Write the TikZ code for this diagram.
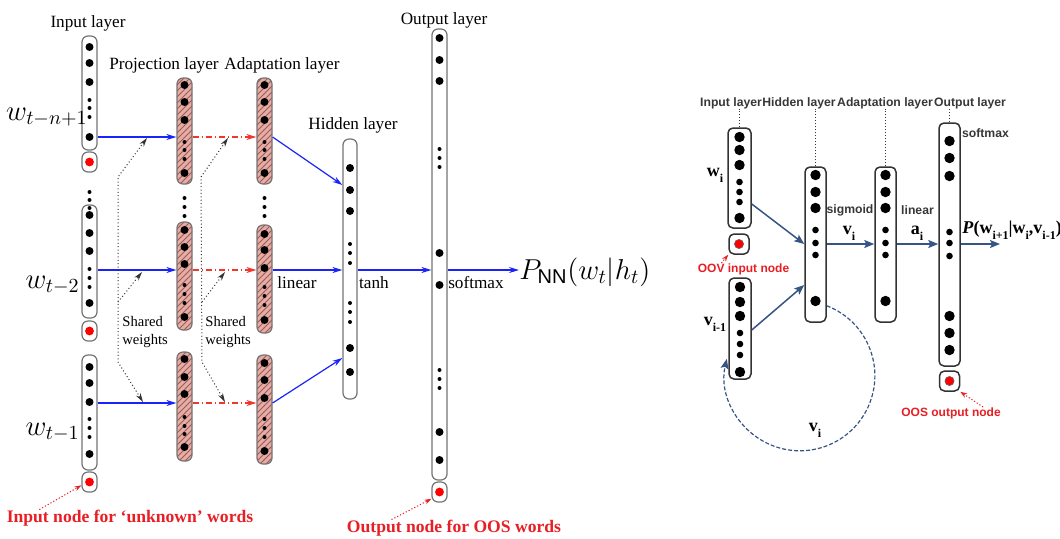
\documentclass[tikz,border=0pt]{standalone}
\usepackage{fontspec}
\setmainfont{Liberation Serif}
\setsansfont{Liberation Sans}
\usetikzlibrary{arrows.meta,patterns}

\definecolor{hatchpink}{RGB}{230,172,166}
\definecolor{hatchline}{RGB}{160,90,88}
\definecolor{linkblue}{RGB}{25,35,250}
\definecolor{linkred}{RGB}{240,55,45}
\definecolor{oovred}{RGB}{232,30,36}
\definecolor{navy}{RGB}{55,85,132}
\definecolor{titlegray}{RGB}{55,55,55}

\newcommand\rsub[1]{\raisebox{-0.75ex}{\fontsize{6}{7}\selectfont #1}}

\begin{document}
\begin{tikzpicture}[x=0.5pt, y=-0.5pt,
column/.style={rectangle, rounded corners=3pt, draw=black!55, line width=0.6pt, minimum width=7.5pt, inner sep=0pt},
hatchcolumn/.style={column, preaction={fill=hatchpink}, pattern=north east lines, pattern color=hatchline},
rcolumn/.style={rectangle, rounded corners=2.5pt, draw=black!80, line width=0.75pt, minimum width=11pt, inner sep=0pt},
layerlabel/.style={font=\fontsize{8.6}{10}\selectfont, inner sep=0pt},
sharedlabel/.style={font=\fontsize{7.3}{8.8}\selectfont, inner sep=0pt, anchor=west},
wordlabel/.style={font=\fontsize{14.4}{17}\selectfont, inner sep=0pt, anchor=base east},
redlabel/.style={font=\fontsize{8.8}{10}\selectfont\bfseries, text=oovred, inner sep=0pt},
rtitle/.style={font=\fontsize{6.1}{7}\selectfont\sffamily\bfseries, text=titlegray, inner sep=0pt},
rredlabel/.style={font=\fontsize{6}{7}\selectfont\sffamily\bfseries, text=oovred, inner sep=0pt},
rvec/.style={font=\fontsize{9}{10}\selectfont\bfseries, inner sep=0pt},
bigdot/.style={radius=2pt},
smalldot/.style={radius=1pt},
rbigdot/.style={radius=2.6pt},
rsmalldot/.style={radius=1.65pt},
reddot/.style={fill=red, radius=2.2pt},
bluearrow/.style={draw=linkblue, line width=0.6pt, -{Stealth[length=5pt,width=3pt]}},
redarrow/.style={draw=linkred, line width=0.6pt, dash pattern=on 3pt off 1.5pt on 0.6pt off 1.5pt, -{Stealth[length=5pt,width=3pt]}},
shared/.style={draw=black!80, line width=0.5pt, dash pattern=on 0.5pt off 1.2pt},
sharedtip/.style={{Stealth[length=4.5pt,width=2.6pt]}-{Stealth[length=4.5pt,width=2.6pt]}},
oovarrow/.style={draw=oovred, line width=0.5pt, dash pattern=on 0.6pt off 1pt, -{Stealth[length=3.5pt,width=2.4pt]}},
navyarrow/.style={draw=navy, line width=0.75pt, -{Stealth[length=5pt,width=4pt,inset=1pt]}},
]
\useasboundingbox (0,0) rectangle (1060,538);

%Nodes (left network)
\node[column, minimum height=57pt]   (in1)   at (89.5,93)    {};
\node[column, minimum height=10pt]   (red1)  at (89.5,162)   {};
\node[column, minimum height=56.5pt] (in2)   at (89.5,261.5) {};
\node[column, minimum height=10pt]   (red2)  at (89.5,331)   {};
\node[column, minimum height=57.5pt] (in3)   at (89.5,412.5) {};
\node[column, minimum height=10pt]   (red3)  at (89.5,482)   {};

\node[hatchcolumn, minimum height=53pt]   (proj1) at (184.5,131)   {};
\node[hatchcolumn, minimum height=54pt]   (proj2) at (184.5,276)   {};
\node[hatchcolumn, minimum height=54.5pt] (proj3) at (184.5,406.5) {};
\node[hatchcolumn, minimum height=53pt]   (ad1)   at (264.5,131)   {};
\node[hatchcolumn, minimum height=54pt]   (ad2)   at (264.5,279)   {};
\node[hatchcolumn, minimum height=54.5pt] (ad3)   at (264.5,409.5) {};

\node[column, minimum width=7pt, minimum height=130pt] (hid)    at (350,269)   {};
\node[column, minimum height=225.5pt]                  (out)    at (439.5,254.5) {};
\node[column, minimum height=10pt]                     (redout) at (439.5,492) {};

\node[layerlabel] (linput) at (88,23)   {Input layer};
\node[layerlabel] (lproj)  at (164,65)  {Projection layer};
\node[layerlabel] (ladapt) at (282,65)  {Adaptation layer};
\node[layerlabel] (lhid)   at (353,125) {Hidden layer};
\node[layerlabel] (lout)   at (444,20)  {Output layer};
\node[layerlabel] (llin)   at (297,283) {linear};
\node[layerlabel] (ltanh)  at (374,283) {tanh};
\node[layerlabel] (lsoft)  at (476,283) {softmax};
\node[sharedlabel] (sw1) at (122,332) {\begin{tabular}{@{}l@{}}Shared\\weights\end{tabular}};
\node[sharedlabel] (sw2) at (205,332) {\begin{tabular}{@{}l@{}}Shared\\weights\end{tabular}};

\node[wordlabel] (w1) at (88,120) {$w_{t-n+1}$};
\node[wordlabel] (w2) at (80,288) {$w_{t-2}$};
\node[wordlabel] (w3) at (80,435) {$w_{t-1}$};
\node[font=\fontsize{14.4}{16}\selectfont, inner sep=0pt, anchor=base west] (pnn) at (519,279) {$P_{\mathsf{NN}}(w_t|h_t)$};

\node[redlabel] (lunk) at (130,518) {Input node for ‘unknown’ words};
\node[redlabel] (loos) at (454,528) {Output node for OOS words};

%Dots (left network)
\foreach \y in {47,63,82,137,215,233,251,303,367,383,402,454} \fill[bigdot] (89.5,\y) circle;
\foreach \y in {100,108,117,192,200,208,269,278,287,419,428,437} \fill[smalldot] (89.5,\y) circle;
\foreach \y in {85,102,120,173,230,247,264,317,359,377,394,447} \fill[bigdot] (184.5,\y) circle;
\foreach \y in {142,150,159,198,207,216,285,294,303,417,426,434} \fill[smalldot] (184.5,\y) circle;
\foreach \y in {85,102,120,173,234,250,268,320,363,380,398,451} \fill[bigdot] (264.5,\y) circle;
\foreach \y in {142,150,159,198,207,216,287,296,305,419,428,437} \fill[smalldot] (264.5,\y) circle;
\foreach \y in {168,190,211,348,372} \fill[bigdot] (350,\y) circle;
\foreach \y in {244,253,263,303,312,322} \fill[smalldot] (350,\y) circle;
\foreach \y in {38,60,81,253,285,432,460} \fill[bigdot] (439.5,\y) circle;
\foreach \y in {149,158,167,370,379,388} \fill[smalldot] (439.5,\y) circle;
\foreach \n in {red1,red2,red3,redout} \fill[reddot] (\n) circle;

%Lines (left network)
\coordinate (r1) at (0,137);
\coordinate (r2) at (0,270);
\coordinate (r3) at (0,403);
\coordinate (h1) at (0,185);
\coordinate (h3) at (0,358);
\draw[bluearrow] (in1.east |- r1) -- (proj1.west |- r1);
\draw[bluearrow] (in2.east |- r2) -- (proj2.west |- r2);
\draw[bluearrow] (in3.east |- r3) -- (proj3.west |- r3);
\draw[redarrow] (proj1.east |- r1) -- (ad1.west |- r1);
\draw[redarrow] (proj2.east |- r2) -- (ad2.west |- r2);
\draw[redarrow] (proj3.east |- r3) -- (ad3.west |- r3);
\draw[bluearrow] (ad1.east |- r1) -- (hid.west |- h1);
\draw[bluearrow] (ad2.east |- r2) -- (hid.west |- r2);
\draw[bluearrow] (ad3.east |- r3) -- (hid.west |- h3);
\draw[bluearrow] (hid.east |- r2) -- (out.west |- r2);
\draw[bluearrow] (out.east |- r2) -- (pnn.west |- r2);

% shared weights
\coordinate (sa1) at (118,177);
\coordinate (sa2) at (118,302);
\coordinate (sa3) at (118,362);
\coordinate (ta1) at (147,138);
\coordinate (ta2) at (142,272);
\coordinate (ta3) at (143,402);
\coordinate (sb1) at (201,177);
\coordinate (sb2) at (202,302);
\coordinate (sb3) at (202,362);
\coordinate (tb1) at (228,138);
\coordinate (tb2) at (225,272);
\coordinate (tb3) at (225,402);
\draw[shared, sharedtip] (ta1) -- (sa1) -- (sa3) -- (ta3);
\draw[shared, -{Stealth[length=4.5pt,width=2.6pt]}] (sa2) -- (ta2);
\draw[shared, sharedtip] (tb1) -- (sb1) -- (sb3) -- (tb3);
\draw[shared, -{Stealth[length=4.5pt,width=2.6pt]}] (sb2) -- (tb2);

\draw[oovarrow] ([xshift=16.5pt]lunk.north west) -- (red3.202);
\draw[oovarrow] ([xshift=22.5pt]loos.north west) -- (redout.220);

%Nodes (right network)
\node[rcolumn, minimum width=11.5pt, minimum height=50pt] (rw)  at (739.5,178)   {};
\node[rcolumn, minimum width=10pt, minimum height=10pt]   (oov) at (739,244)     {};
\node[rcolumn, minimum height=50.5pt]                     (rv)  at (740,328.5)   {};
\node[rcolumn, minimum width=10.5pt, minimum height=77.5pt] (rh) at (815.5,244.5) {};
\node[rcolumn, minimum width=10.5pt, minimum height=77.5pt] (ra) at (885.5,244.5) {};
\node[rcolumn, minimum width=10.5pt, minimum height=121.5pt] (ro) at (949.5,244.5) {};
\node[rcolumn, minimum width=10pt, minimum height=10pt]   (oos) at (949.5,381)   {};

\node[rtitle] (rtin)  at (731,103) {Input layer};
\node[rtitle] (rthid) at (799,103) {Hidden layer};
\node[rtitle] (rtad)  at (885,103) {Adaptation layer};
\node[rtitle] (rtout) at (970,103) {Output layer};
\node[rtitle] (rsig)  at (850,210) {sigmoid};
\node[rtitle] (rlin)  at (917.5,210) {linear};
\node[rtitle] (rsoft) at (985.5,133) {softmax};

\node[rvec] (lwi)   at (715,175) {w\rsub{i}};
\node[rvec] (lvim)  at (715,324) {v\rsub{i-1}};
\node[rvec] (lvi)   at (849,233) {v\rsub{i}};
\node[rvec] (lai)   at (917,233) {a\rsub{i}};
\node[rvec] (lloop) at (815,430) {v\rsub{i}};
\node[rvec, anchor=west] (lprob) at (962,230) {\textit{P}(w\rsub{i+1}|w\rsub{i},v\rsub{i-1})};

\node[rredlabel] (loov)  at (743.5,269) {OOV input node};
\node[rredlabel] (loosr) at (951,413)   {OOS output node};

%Dots (right network)
\foreach \y in {137,150,165,218} \fill[rbigdot] (739.5,\y) circle;
\foreach \y in {182,192,202} \fill[rsmalldot] (739.5,\y) circle;
\foreach \y in {287,302,316,372} \fill[rbigdot] (740,\y) circle;
\foreach \y in {333,344,355} \fill[rsmalldot] (740,\y) circle;
\foreach \x in {815.5,885.5} {
  \foreach \y in {175,192,208,301} \fill[rbigdot] (\x,\y) circle;
  \foreach \y in {230,243,255} \fill[rsmalldot] (\x,\y) circle;
}
\foreach \y in {141,158,176,316,333,350} \fill[rbigdot] (949.5,\y) circle;
\foreach \y in {232,243,256} \fill[rsmalldot] (949.5,\y) circle;
\fill[reddot, radius=2.3pt, draw=black!60, line width=0.3pt] (oov) circle;
\fill[reddot, radius=2.3pt, draw=black!60, line width=0.3pt] (oos) circle;

%Lines (right network)
\coordinate (ra1) at (0,204);
\coordinate (ra2) at (0,244);
\coordinate (ra3) at (0,285);
\coordinate (ra4) at (0,330);
\coordinate (pend) at (1000,244);
\draw[titlegray, line width=0.5pt, dash pattern=on 0.5pt off 1pt] (rw.north) -- (rw.north |- rtin.south);
\draw[titlegray, line width=0.5pt, dash pattern=on 0.5pt off 1pt] (rh.north) -- (rh.north |- rthid.south);
\draw[titlegray, line width=0.5pt, dash pattern=on 0.5pt off 1pt] (ra.north) -- (ra.north |- rtad.south);
\draw[titlegray, line width=0.5pt, dash pattern=on 0.5pt off 1pt] (ro.north) -- (ro.north |- rtout.south);
\draw[navyarrow] (rw.east |- ra1) -- (rh.west |- ra2);
\draw[navyarrow] (rv.east |- ra4) -- (rh.west |- ra3);
\draw[navyarrow] (rh.east |- ra2) -- (ra.west |- ra2);
\draw[navyarrow] (ra.east |- ra2) -- (ro.west |- ra2);
\draw[navyarrow] (ro.east |- ra2) -- (pend);
\draw[navyarrow, line width=0.6pt, dash pattern=on 2pt off 1pt] ([yshift=8.5pt]rh.south east) arc[start angle=69, end angle=-193, radius=37.5pt];
\draw[oovarrow] ([xshift=12pt]loov.north west) -- (oov.south west);
\draw[oovarrow] ([xshift=-9pt]loosr.north east) -- (oos.south east);

\end{tikzpicture}
\end{document}
